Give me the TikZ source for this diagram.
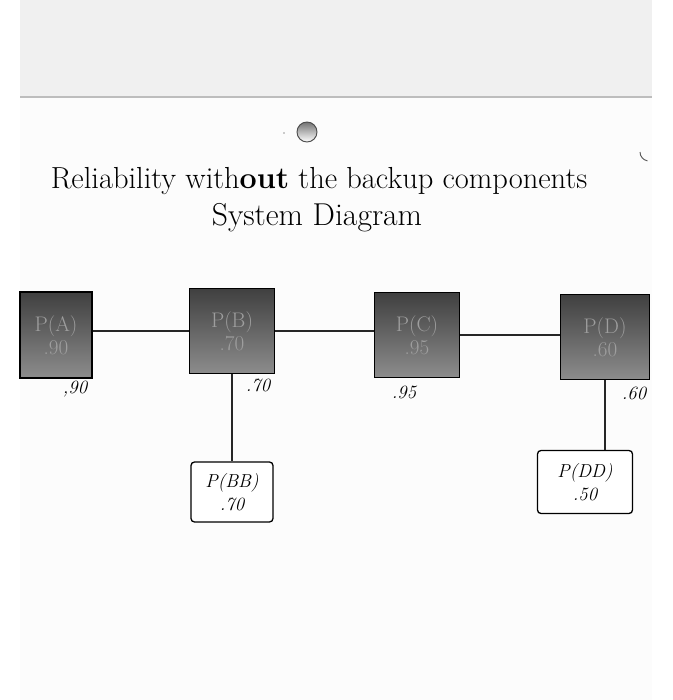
\documentclass[tikz,border=0pt]{standalone}
\usepackage{tikz}
\usetikzlibrary{positioning}
\definecolor{band}{HTML}{F0F0F0}
\definecolor{paper}{HTML}{FCFCFC}
\definecolor{rule}{HTML}{BDBDBD}

\begin{document}
\begin{tikzpicture}[
    x=0.03cm, y=-0.03cm,
    comp/.style={draw=black, line width=1pt, top color=black!75, bottom color=black!45,
        minimum width=2.55cm, minimum height=2.55cm, align=center,
        text=black!38, font=\fontsize{18}{20}\selectfont, inner sep=0pt},
    backup/.style={draw=black, line width=1.1pt, rounded corners=3pt, fill=white,
        align=center, font=\fontsize{16}{20}\selectfont\itshape, inner sep=0pt},
    prob/.style={font=\fontsize{16}{18}\selectfont\itshape, inner sep=1pt},
    link/.style={line width=1pt, draw=black!85}
]
% page
\useasboundingbox (0,0) rectangle (673,700);
\fill[white] (0,0) rectangle (673,700);
\fill[paper] (20,97) rectangle (652,700);
\fill[band] (20,0) rectangle (652,97);
\draw[rule, line width=1pt] (20,97) -- (652,97);

% punch hole and marks
\draw[black!70, line width=0.8pt, top color=black!55, bottom color=white] (307,132) circle (10);
\fill[black!40] (284,133) circle (0.8);
\draw[black!65, line width=0.8pt] (640,152) arc (180:100:9);

% Title
\node[font=\fontsize{26}{30}\selectfont] (title) at (319,181)
    {Reliability with\textbf{out} the backup components};
\node[font=\fontsize{27}{30}\selectfont] (subtitle) at (317,218) {System Diagram};

% Components
\node[comp, minimum width=2.16cm, minimum height=2.58cm] (A) at (56,335) {P(A)\\.90};
\node[comp] (B) at (232,331) {P(B)\\.70};
\node[comp] (C) at (417,335) {P(C)\\.95};
\node[comp, minimum width=2.67cm] (D) at (605,337) {P(D)\\.60};

% Backups
\node[backup, minimum width=2.46cm, minimum height=1.8cm] (BB) at (232,492) {P(BB)\\.70};
\node[backup, minimum width=2.85cm, minimum height=1.89cm] (DD) at (585,482) {P(DD)\\.50};

% Reliabilities
\node[prob] (pa) at (75,389) {,90};
\node[prob] (pb) at (258,385) {.70};
\node[prob] (pc) at (404,392) {.95};
\node[prob] (pd) at (634,393) {.60};

% Series links
\draw[link] (A.east |- B.west) -- (B.west);
\draw[link] (B.east) -- (B.east -| C.west);
\draw[link] (C.east) -- (C.east -| D.west);

% Backup links
\draw[link] (B.south) -- (BB.north);
\draw[link] (D.south) -- (D.south |- DD.north);

\end{tikzpicture}
\end{document}
